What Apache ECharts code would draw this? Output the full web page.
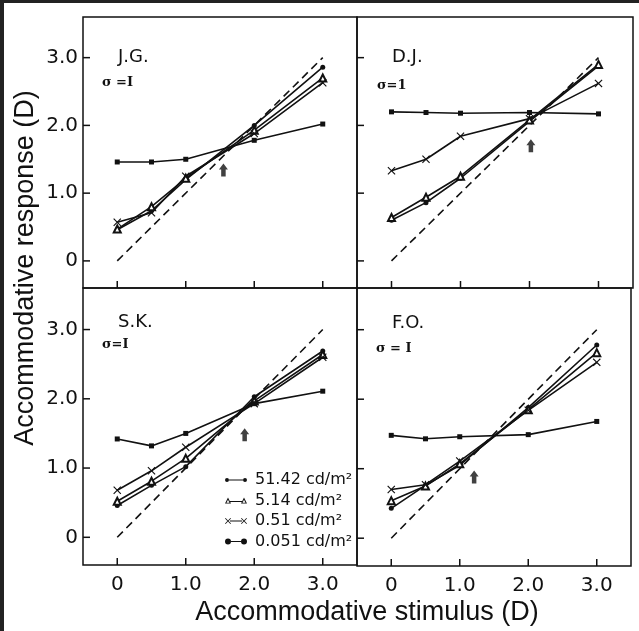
<!DOCTYPE html>
<html>
<head>
<meta charset="utf-8">
<script src="https://cdn.jsdelivr.net/npm/echarts@6/dist/echarts.min.js"></script>
<style>
  html, body { margin: 0; padding: 0; background: #fff; }
  #chart { position: absolute; left: 0; top: 0; width: 639px; height: 631px; }
  #frame { position: absolute; left: 0; top: 0; width: 639px; height: 631px; box-sizing: border-box;
           border-top: 3px solid #222; border-left: 4px solid #222; pointer-events: none; }
</style>
</head>
<body>
<div id="chart"></div>
<div id="frame"></div>
<script>
// stimulus levels (D) and luminance conditions
const stimulus = [0, 0.5, 1.0, 2.0, 3.0]
const luminance = ['51.42 cd/m²', '5.14 cd/m²', '0.51 cd/m²', '0.051 cd/m²']
const tickValues = [0, 1, 2, 3]
const tickLabels = ['0', '1.0', '2.0', '3.0']
const identityLine = [[0, 0], [3, 3]]

// J.G.
const jg5142 = [0.46, 0.74, 1.20, 2.00, 2.86]
const jg514 = [0.47, 0.80, 1.22, 1.93, 2.70]
const jg051 = [0.57, 0.71, 1.25, 1.88, 2.63]
const jg0051 = [1.46, 1.46, 1.50, 1.78, 2.02]
// D.J.
const dj5142 = [0.60, 0.86, 1.22, 2.06, 2.88]
const dj514 = [0.64, 0.94, 1.25, 2.08, 2.90]
const dj051 = [1.33, 1.50, 1.84, 2.10, 2.62]
const dj0051 = [2.20, 2.19, 2.18, 2.19, 2.17]
// S.K.
const sk5142 = [0.46, 0.75, 1.02, 2.03, 2.69]
const sk514 = [0.52, 0.81, 1.14, 1.97, 2.64]
const sk051 = [0.68, 0.96, 1.30, 1.93, 2.60]
const sk0051 = [1.42, 1.32, 1.50, 1.93, 2.11]
// F.O.
const fo5142 = [0.43, 0.76, 1.05, 1.88, 2.78]
const fo514 = [0.54, 0.75, 1.07, 1.85, 2.67]
const fo051 = [0.70, 0.77, 1.11, 1.84, 2.53]
const fo0051 = [1.48, 1.43, 1.46, 1.49, 1.68]

const subjects = ['J.G.', 'D.J.', 'S.K.', 'F.O.']
const sigmaLabels = ['σ =I', 'σ=1', 'σ=I', 'σ = I']
const arrowX = [1.55, 2.02, 1.86, 1.21]
const arrowY = [1.34, 1.70, 1.48, 0.88]

const responses = [
  [jg5142, jg514, jg051, jg0051],
  [dj5142, dj514, dj051, dj0051],
  [sk5142, sk514, sk051, sk0051],
  [fo5142, fo514, fo051, fo0051],
]

const grids = [
  { left: 83, top: 17, width: 274, height: 271 },
  { left: 357, top: 17, width: 276, height: 271 },
  { left: 83, top: 288, width: 274, height: 277 },
  { left: 357, top: 288, width: 274, height: 278 },
]
const X_MIN = -0.5, X_MAX = 3.5, Y_MIN = -0.4, Y_MAX = 3.6
const TICK_LEN = 7
// subject name / sigma text positions
const namePos = [[118, 57], [392, 57], [118, 322], [392, 323]]
const sigmaPos = [[102, 83], [377, 86], [102, 345], [376, 349]]

const crossPath = 'path://M0,1 L1,0 L5,4 L9,0 L10,1 L6,5 L10,9 L9,10 L5,6 L1,10 L0,9 L4,5 Z'
const arrowPath = 'path://M5,0 L10,6 L7.5,6 L7.5,13 L2.5,13 L2.5,6 L0,6 Z'
const symbols = ['circle', 'emptyTriangle', crossPath, 'rect']
const symbolSizes = [5, 7, 8, 5]

const legendIcons = [
  'path://M0,2 A2,2 0 1,0 4,2 A2,2 0 1,0 0,2 Z M4,1.5 L18,1.5 L18,2.5 L4,2.5 Z M18,2 A2,2 0 1,0 22,2 A2,2 0 1,0 18,2 Z',
  'path://M0,6 L3,0 L6,6 Z M1.5,5.2 L4.5,5.2 L3,2.2 Z M5,3.6 L17,3.6 L17,4.4 L5,4.4 Z M16,6 L19,0 L22,6 Z M17.5,5.2 L20.5,5.2 L19,2.2 Z',
  'path://M0,0.6 L0.6,0 L3,2.4 L5.4,0 L6,0.6 L3.6,3 L6,5.4 L5.4,6 L3,3.6 L0.6,6 L0,5.4 L2.4,3 Z M5,2.6 L17,2.6 L17,3.4 L5,3.4 Z M16,0.6 L16.6,0 L19,2.4 L21.4,0 L22,0.6 L19.6,3 L22,5.4 L21.4,6 L19,3.6 L16.6,6 L16,5.4 L18.4,3 Z',
  'path://M0,3 A3,3 0 1,0 6,3 A3,3 0 1,0 0,3 Z M6,2.5 L16,2.5 L16,3.5 L6,3.5 Z M16,3 A3,3 0 1,0 22,3 A3,3 0 1,0 16,3 Z',
]

const fmtTick = v => tickLabels[tickValues.indexOf(v)]
const tickFont = { fontFamily: 'DejaVu Sans', fontSize: 20, color: '#111' }

const xAxes = grids.map((g, i) => ({
  type: 'value', gridIndex: i, min: X_MIN, max: X_MAX,
  axisLine: { show: false, onZero: false }, splitLine: { show: false }, axisTick: { show: false },
  axisLabel: { show: i >= 2, customValues: tickValues, formatter: fmtTick, margin: 10, ...tickFont },
}))
const yAxes = grids.map((g, i) => ({
  type: 'value', gridIndex: i, min: Y_MIN, max: Y_MAX,
  axisLine: { show: false, onZero: false }, splitLine: { show: false }, axisTick: { show: false },
  axisLabel: { show: i % 2 === 0, customValues: tickValues, formatter: fmtTick, margin: 5, ...tickFont },
}))

const series = []
responses.forEach((panel, i) => {
  series.push({
    type: 'line', xAxisIndex: i, yAxisIndex: i, data: identityLine, symbol: 'none', silent: true,
    lineStyle: { color: '#111', width: 1.6, type: [8, 5] },
  })
  panel.forEach((vals, j) => {
    series.push({
      name: luminance[j], type: 'line', xAxisIndex: i, yAxisIndex: i,
      data: stimulus.map((x, k) => [x, vals[k]]),
      symbol: symbols[j], symbolSize: symbolSizes[j], showAllSymbol: true,
      lineStyle: { color: '#111', width: 1.6 },
      itemStyle: { color: '#111', borderColor: '#111', borderWidth: j === 1 ? 1.2 : 0 },
    })
  })
  series.push({
    type: 'scatter', xAxisIndex: i, yAxisIndex: i, data: [[arrowX[i], arrowY[i]]],
    symbol: arrowPath, symbolSize: [9, 13], itemStyle: { color: '#111' }, silent: true,
  })
})

const graphic = []
subjects.forEach((s, i) => {
  graphic.push({ type: 'text', x: namePos[i][0], y: namePos[i][1],
    style: { text: s, fontFamily: 'DejaVu Sans', fontSize: 18, fill: '#111', verticalAlign: 'middle' } })
  graphic.push({ type: 'text', x: sigmaPos[i][0], y: sigmaPos[i][1],
    style: { text: sigmaLabels[i], fontFamily: 'DejaVu Serif', fontWeight: 'bold', fontSize: 13, fill: '#111', verticalAlign: 'middle' } })
})
graphic.push({ type: 'text', x: 367, y: 613,
  style: { text: 'Accommodative stimulus (D)', fontFamily: 'Liberation Sans, Arial', fontSize: 27, fill: '#111', align: 'center', verticalAlign: 'middle' } })
graphic.push({ type: 'text', x: 26, y: 268, rotation: Math.PI / 2,
  style: { text: 'Accommodative response (D)', fontFamily: 'Liberation Sans, Arial', fontSize: 27, fill: '#111', align: 'center', verticalAlign: 'middle' } })

const chart = echarts.init(document.getElementById('chart'))
chart.setOption({
  animation: false,
  backgroundColor: '#fff',
  grid: grids.map(g => ({ ...g, show: true, borderColor: '#111', borderWidth: 1.5, backgroundColor: 'transparent' })),
  xAxis: xAxes,
  yAxis: yAxes,
  legend: {
    orient: 'vertical', left: 220, top: 467, itemWidth: 22, itemHeight: 8, itemGap: 4.5,
    selectedMode: false,
    textStyle: { fontFamily: 'DejaVu Sans', fontSize: 16, color: '#111', padding: [0, 0, 0, 3] },
    data: luminance.map((n, j) => ({ name: n, icon: legendIcons[j], itemStyle: { color: '#111', borderWidth: 0 } })),
  },
  graphic: graphic,
  series: series,
})

// inward tick marks on the bottom and left edge of each panel, placed through the axis scales
try {
  const ticks = []
  grids.forEach((g, i) => {
    tickValues.forEach(v => {
      const bx = chart.convertToPixel({ gridIndex: i }, [v, Y_MIN])
      ticks.push({ type: 'line', z: 100, silent: true,
        shape: { x1: bx[0], y1: bx[1], x2: bx[0], y2: bx[1] - TICK_LEN },
        style: { stroke: '#111', lineWidth: 1.5 } })
      const ly = chart.convertToPixel({ gridIndex: i }, [X_MIN, v])
      ticks.push({ type: 'line', z: 100, silent: true,
        shape: { x1: ly[0], y1: ly[1], x2: ly[0] + TICK_LEN, y2: ly[1] },
        style: { stroke: '#111', lineWidth: 1.5 } })
    })
  })
  chart.setOption({ graphic: graphic.concat(ticks) })
} catch (e) {}
</script>
</body>
</html>
